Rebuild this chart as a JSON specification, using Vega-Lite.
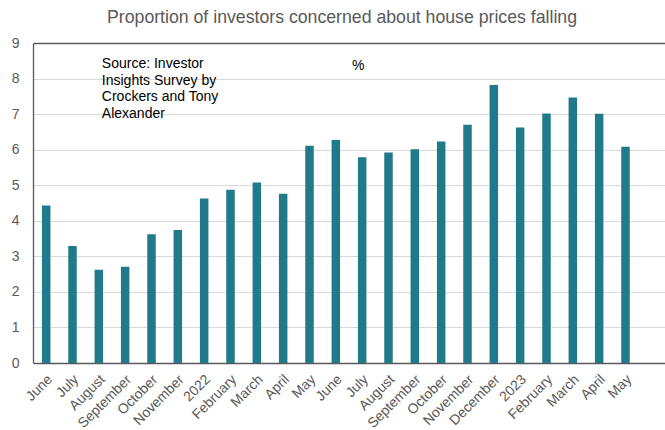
{
  "$schema": "https://vega.github.io/schema/vega-lite/v6.json",
  "width": 632,
  "height": 320,
  "autosize": {"type": "none"},
  "padding": {"left": 33, "top": 43, "right": 0, "bottom": 67},
  "background": "#ffffff",
  "config": {
    "font": "Liberation Sans",
    "view": {"stroke": null}
  },
  "title": {
    "text": "Proportion of investors concerned about house prices falling",
    "font": "Liberation Sans",
    "fontSize": 17.7,
    "fontWeight": "normal",
    "color": "#595959",
    "anchor": "middle",
    "dx": -7,
    "offset": 9
  },
  "resolve": {"axis": {"x": "independent", "y": "independent"}},
  "datasets": {
    "survey": [
      {"month": "2021-06", "value": 4.43},
      {"month": "2021-07", "value": 3.29},
      {"month": "2021-08", "value": 2.62},
      {"month": "2021-09", "value": 2.71},
      {"month": "2021-10", "value": 3.62},
      {"month": "2021-11", "value": 3.74},
      {"month": "2022-01", "value": 4.63},
      {"month": "2022-02", "value": 4.87},
      {"month": "2022-03", "value": 5.08},
      {"month": "2022-04", "value": 4.76},
      {"month": "2022-05", "value": 6.11},
      {"month": "2022-06", "value": 6.27},
      {"month": "2022-07", "value": 5.79},
      {"month": "2022-08", "value": 5.92},
      {"month": "2022-09", "value": 6.01},
      {"month": "2022-10", "value": 6.23},
      {"month": "2022-11", "value": 6.7},
      {"month": "2022-12", "value": 7.82},
      {"month": "2023-01", "value": 6.62},
      {"month": "2023-02", "value": 7.02},
      {"month": "2023-03", "value": 7.47},
      {"month": "2023-04", "value": 7.01},
      {"month": "2023-05", "value": 6.08}
    ],
    "notes": [
      {"note": "Source: Investor\nInsights Survey by\nCrockers and Tony\nAlexander"}
    ],
    "unit": [
      {"note": "%"}
    ]
  },
  "layer": [
    {
      "data": {"name": "survey"},
      "mark": {"type": "bar", "width": 8.5, "color": "#217A8A"},
      "encoding": {
        "x": {
          "field": "month",
          "type": "ordinal",
          "sort": null,
          "scale": {
            "domain": ["2021-06","2021-07","2021-08","2021-09","2021-10","2021-11","2022-01","2022-02","2022-03","2022-04","2022-05","2022-06","2022-07","2022-08","2022-09","2022-10","2022-11","2022-12","2023-01","2023-02","2023-03","2023-04","2023-05","2023-06"]
          },
          "axis": {
            "title": null,
            "labelExpr": "datum.value == '2023-06' ? '' : (slice(datum.value, 5) == '01' ? slice(datum.value, 0, 4) : timeFormat(datetime(toNumber(slice(datum.value, 0, 4)), toNumber(slice(datum.value, 5)) - 1, 1), '%B'))",
            "labelAngle": -45,
            "labelAlign": "right",
            "labelBaseline": "middle",
            "labelPadding": 14,
            "labelOffset": 4,
            "labelFontSize": 14,
            "labelColor": "#595959",
            "labelFont": "Liberation Sans",
            "labelOverlap": false,
            "ticks": false,
            "domainColor": "#595959",
            "domainWidth": 1.3,
            "grid": false
          }
        },
        "y": {
          "field": "value",
          "type": "quantitative",
          "scale": {"domain": [0, 9], "nice": false},
          "axis": {
            "title": null,
            "values": [0,1,2,3,4,5,6,7,8,9],
            "labelOverlap": false,
            "labelFlush": false,
            "labelFontSize": 14,
            "labelColor": "#595959",
            "labelFont": "Liberation Sans",
            "labelPadding": 14,
            "ticks": false,
            "domainColor": "#595959",
            "domainWidth": 1.3,
            "grid": true,
            "gridColor": {"condition": {"test": "datum.value == 9", "value": "#595959"}, "value": "#D9D9D9"},
            "gridWidth": {"condition": {"test": "datum.value == 9", "value": 1.3}, "value": 1}
          }
        }
      }
    },
    {
      "data": {"name": "notes"},
      "mark": {"type": "text", "align": "left", "baseline": "alphabetic", "lineBreak": "\n", "lineHeight": 16.7, "fontSize": 14, "font": "Liberation Sans", "color": "#000000", "dx": 3},
      "encoding": {
        "x": {"datum": "2021-08", "type": "ordinal", "axis": null},
        "y": {"datum": 8.3, "type": "quantitative", "axis": null},
        "text": {"field": "note"}
      }
    },
    {
      "data": {"name": "unit"},
      "mark": {"type": "text", "align": "center", "baseline": "alphabetic", "fontSize": 14, "font": "Liberation Sans", "color": "#000000", "dx": -4},
      "encoding": {
        "x": {"datum": "2022-07", "type": "ordinal", "axis": null},
        "y": {"datum": 8.25, "type": "quantitative", "axis": null},
        "text": {"field": "note"}
      }
    }
  ]
}
